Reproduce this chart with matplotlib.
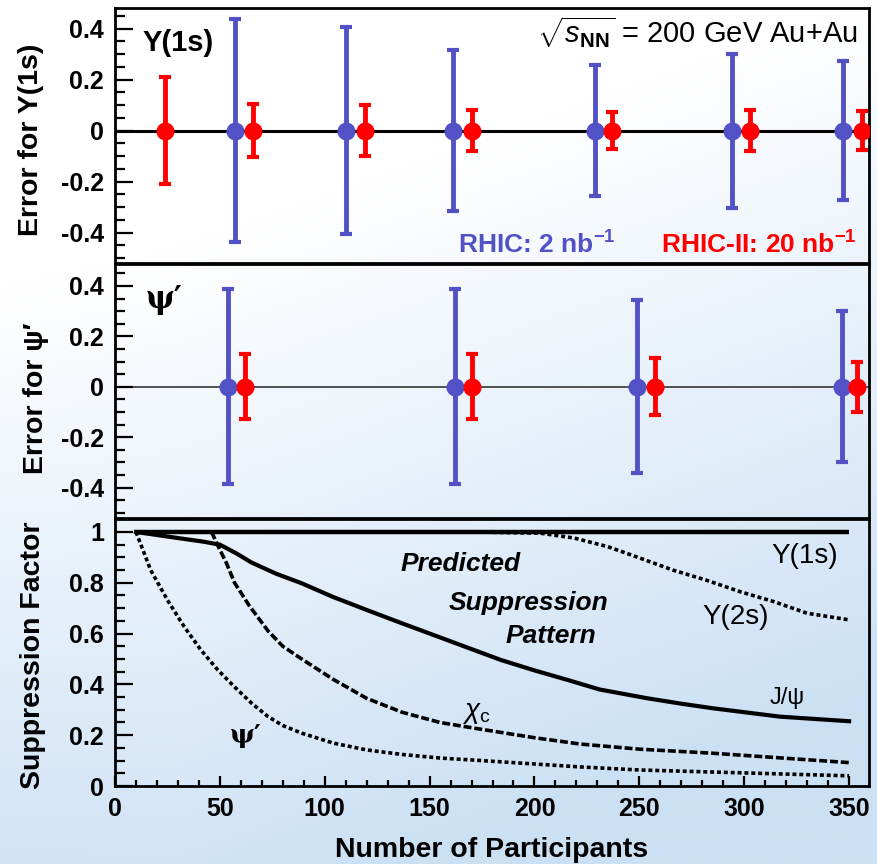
import numpy as np
import matplotlib
matplotlib.use("Agg")
import matplotlib.pyplot as plt
from matplotlib.ticker import FixedLocator, MultipleLocator

plt.rcParams['font.family'] = ['Liberation Sans', 'DejaVu Sans']
plt.rcParams['mathtext.fontset'] = 'custom'
plt.rcParams['mathtext.rm'] = 'Liberation Sans'
plt.rcParams['mathtext.it'] = 'Liberation Sans:italic'
plt.rcParams['mathtext.bf'] = 'Liberation Sans:bold'
plt.rcParams['axes.unicode_minus'] = False

# ---------------- data ----------------
# Upsilon(1s) error panel
ups_blue_npart = [57, 110, 161, 229, 294, 347]
ups_blue_err = [0.437, 0.405, 0.317, 0.257, 0.302, 0.273]
ups_red_npart = [24, 66, 119, 170, 237, 303, 356]
ups_red_err = [0.21, 0.105, 0.10, 0.08, 0.072, 0.081, 0.077]

# psi' error panel
psi_blue_npart = [54, 162, 249, 346.5]
psi_blue_err = [0.388, 0.386, 0.344, 0.30]
psi_red_npart = [62, 170, 257.5, 354]
psi_red_err = [0.128, 0.128, 0.114, 0.10]

# predicted suppression curves
ups1s_n = [10, 350]
ups1s_s = [1.0, 1.0]
ups2s_n = [10, 170, 203, 219, 235, 250, 266, 282, 298, 314, 330, 350]
ups2s_s = [1.0, 1.0, 0.995, 0.976, 0.942, 0.898, 0.85, 0.81, 0.765, 0.726, 0.68, 0.654]
jpsi_n = [10, 30, 42, 50, 58, 65, 77, 89, 104, 120, 136, 152, 168, 184, 200, 216, 231,
          254, 270, 285, 317, 350]
jpsi_s = [1.0, 0.976, 0.962, 0.95, 0.915, 0.88, 0.835, 0.798, 0.744, 0.693, 0.643,
          0.594, 0.545, 0.496, 0.455, 0.417, 0.38, 0.345, 0.324, 0.306, 0.273, 0.255]
chic_n = [46, 50, 53, 57, 64, 73, 80, 89, 104, 120, 137, 155, 171, 200, 222, 250, 285, 350]
chic_s = [1.0, 0.93, 0.88, 0.80, 0.71, 0.61, 0.55, 0.50, 0.42, 0.345, 0.29, 0.25,
          0.228, 0.19, 0.165, 0.145, 0.129, 0.092]
psip_n = [10, 17, 25, 33, 41, 49, 57, 65, 73, 80, 89, 104, 120, 137, 155, 171, 222,
          250, 285, 350]
psip_s = [1.0, 0.85, 0.732, 0.627, 0.535, 0.457, 0.39, 0.327, 0.273, 0.238, 0.208,
          0.169, 0.142, 0.124, 0.11, 0.102, 0.075, 0.063, 0.055, 0.04]

err_ticks = [-0.4, -0.2, 0, 0.2, 0.4]
err_ticklabels = ['-0.4', '-0.2', '0', '0.2', '0.4']
sup_ticks = [0, 0.2, 0.4, 0.6, 0.8, 1]
sup_ticklabels = ['0', '0.2', '0.4', '0.6', '0.8', '1']
x_ticks = [0, 50, 100, 150, 200, 250, 300, 350]
x_ticklabels = ['0', '50', '100', '150', '200', '250', '300', '350']

BLUE = '#5252c6'
RED = '#ff0000'

W, H = 878, 864
fig = plt.figure(figsize=(W / 100, H / 100), dpi=100)

# background gradient
bg = fig.add_axes([0, 0, 1, 1], zorder=-10)
yy, xx = np.mgrid[0:1:300j, 0:1:300j]
t = np.clip(1.25 * yy - 0.45 + 0.45 * xx + 0.5 * np.clip(0.2 - xx, 0, 1) * yy, 0, 1)
c0 = np.array([1.0, 1.0, 1.0])
c1 = np.array([0.80, 0.88, 0.96])
img = c0[None, None, :] * (1 - t[..., None]) + c1[None, None, :] * t[..., None]
bg.imshow(img, extent=[0, 1, 0, 1], aspect='auto', origin='upper')
bg.set_axis_off()

L = 115 / W
AW = (869 - 115) / W
XMAX = 359.5


def frac(top, bottom):
    return [L, 1 - bottom / H, AW, (bottom - top) / H]


ax1 = fig.add_axes(frac(8, 263))
ax2 = fig.add_axes(frac(264, 518))
ax3 = fig.add_axes(frac(519, 786))

for ax in (ax1, ax2, ax3):
    ax.set_facecolor('none')
    ax.set_xlim(0, XMAX)
    for s in ax.spines.values():
        s.set_linewidth(2.0)
    ax.tick_params(axis='y', which='major', direction='in', length=13, width=1.6,
                   pad=8, labelsize=18, right=False)
    ax.tick_params(axis='y', which='minor', direction='in', length=7, width=1.6, right=False)

label_font = dict(fontsize=20.5, fontweight='bold')


def err_panel(ax, bn, be, rn, re_, ylim, zero_lw, zero_col):
    ax.set_ylim(*ylim)
    ax.axhline(0, color=zero_col, lw=zero_lw, zorder=1)
    ax.errorbar(bn, [0] * len(bn), yerr=be, fmt='o', color=BLUE, ms=12, elinewidth=3.5,
                capsize=4.5, capthick=3, zorder=3)
    ax.errorbar(rn, [0] * len(rn), yerr=re_, fmt='o', color=RED, ms=12, elinewidth=3.5,
                capsize=4.5, capthick=3, zorder=4)
    ax.yaxis.set_major_locator(FixedLocator(err_ticks))
    ax.set_yticklabels(err_ticklabels, fontweight='bold', fontsize=18)
    ax.yaxis.set_minor_locator(MultipleLocator(0.05))
    ax.tick_params(axis='x', which='both', bottom=False, top=False, labelbottom=False)


err_panel(ax1, ups_blue_npart, ups_blue_err, ups_red_npart, ups_red_err,
          (-0.519, 0.481), 2.2, 'black')
err_panel(ax2, psi_blue_npart, psi_blue_err, psi_red_npart, psi_red_err,
          (-0.521, 0.487), 1.3, '#444444')

ax1.set_ylabel('Error for Υ(1s)', **label_font)
ax1.yaxis.set_label_coords(-0.094, 0.482)
ax2.set_ylabel('Error for ψ′', **label_font)
ax2.yaxis.set_label_coords(-0.088, 0.472)

ax1.text(0.037, 0.863, 'Υ(1s)', transform=ax1.transAxes, fontsize=21,
         fontweight='bold', ha='left', va='center')
ax1.text(0.985, 0.905, r'$\sqrt{s_{\mathbf{NN}}}$ = 200 GeV Au+Au', transform=ax1.transAxes,
         fontsize=21, ha='right', va='center')
ax1.text(0.455, 0.072, r'RHIC: 2 nb$^{\mathbf{-1}}$', transform=ax1.transAxes,
         fontsize=19, fontweight='bold', color=BLUE, ha='left', va='center')
ax1.text(0.984, 0.072, r'RHIC-II: 20 nb$^{\mathbf{-1}}$', transform=ax1.transAxes,
         fontsize=19, fontweight='bold', color=RED, ha='right', va='center')
ax2.text(0.04, 0.862, 'ψ′', transform=ax2.transAxes, fontsize=22, fontweight='bold',
         ha='left', va='center', family=['DejaVu Serif'])

# bottom panel
ax3.set_ylim(0, 1.051)
ax3.plot(ups2s_n, ups2s_s, color='black', lw=2.6, ls=(0, (1.1, 0.8)), zorder=2)
ax3.plot(ups1s_n, ups1s_s, color='black', lw=3.2, solid_capstyle='butt', zorder=3)
ax3.plot(jpsi_n, jpsi_s, color='black', lw=3.0, zorder=3)
ax3.plot(chic_n, chic_s, color='black', lw=2.6, ls=(0, (2.2, 0.8)), zorder=3)
ax3.plot(psip_n, psip_s, color='black', lw=2.6, ls=(0, (1.1, 0.8)), zorder=3)

ax3.yaxis.set_major_locator(FixedLocator(sup_ticks))
ax3.set_yticklabels(sup_ticklabels, fontweight='bold', fontsize=18)
ax3.yaxis.set_minor_locator(MultipleLocator(0.05))
ax3.xaxis.set_major_locator(FixedLocator(x_ticks))
ax3.set_xticklabels(x_ticklabels, fontweight='bold', fontsize=18)
ax3.xaxis.set_minor_locator(MultipleLocator(10))
ax3.tick_params(axis='x', which='major', direction='in', length=7, width=1.6, pad=8, top=False)
ax3.tick_params(axis='x', which='minor', direction='in', length=4.5, width=1.6, top=False)
ax3.set_ylabel('Suppression Factor', **label_font)
ax3.yaxis.set_label_coords(-0.092, 0.49)
ax3.set_xlabel('Number of Participants', **label_font)
ax3.xaxis.set_label_coords(0.5, -0.19)

ax3.text(136, 0.874, 'Predicted', fontsize=19, fontweight='bold', style='italic',
         ha='left', va='center')
ax3.text(159, 0.72, 'Suppression', fontsize=19, fontweight='bold', style='italic',
         ha='left', va='center')
ax3.text(186, 0.59, 'Pattern', fontsize=19, fontweight='bold', style='italic',
         ha='left', va='center')
ax3.text(313, 0.906, 'Υ(1s)', fontsize=20, ha='left', va='center')
ax3.text(280, 0.665, 'Υ(2s)', fontsize=20, ha='left', va='center')
ax3.text(312, 0.346, 'J/ψ', fontsize=17, ha='left', va='center')
ax3.text(165.5, 0.287, r'$\chi_{\mathrm{c}}$', fontsize=20, ha='left', va='center')
ax3.text(54.8, 0.2, 'ψ′', fontsize=19, fontweight='bold', ha='left', va='center',
         family=['DejaVu Serif'])

fig.savefig('out.png', dpi=100)
